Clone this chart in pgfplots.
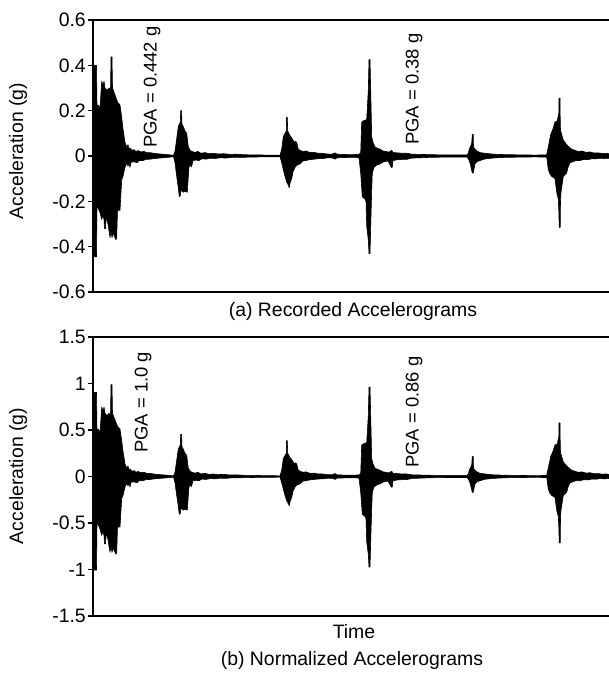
\documentclass[border=0pt]{standalone}
\usepackage{pgfplots}
\pgfplotsset{compat=1.18}
\usepackage{pgfplotstable}
\usepackage{fontspec}
\setmainfont{Liberation Sans}

% upper envelope of the recorded accelerograms (x in time units, y in g)
\pgfplotstableread{
x y
93 0
93.5 0.15
94 0.40
96.5 0.40
97 0.22
98.3 0.225
100 0.21
101 0.28
101.7 0.33
103 0.31
104 0.33
105 0.30
107 0.29
109 0.30
110.5 0.29
111 0.437
112 0.437
112.5 0.30
113.3 0.29
115 0.27
116.7 0.247
118 0.235
120 0.225
121.7 0.17
123 0.12
124 0.09
125 0.06
126.7 0.04
128 0.05
129 0.03
130 0.035
132 0.025
134 0.028
136 0.02
138 0.024
141 0.018
144 0.02
147 0.014
150 0.015
155 0.011
160 0.009
165 0.007
170 0.005
173.5 0.003
175 0.02
176.5 0.07
178.3 0.13
180.3 0.15
180.7 0.20
181.5 0.20
182 0.14
183.3 0.13
185 0.11
186.7 0.10
187.5 0.07
188.3 0.04
190 0.026
192 0.02
195 0.016
198 0.02
201 0.012
205 0.015
209 0.01
213 0.012
218 0.009
224 0.01
230 0.007
236 0.008
242 0.006
250 0.005
257 0.005
265 0.004
272 0.004
280 0.003
281.7 0.03
283.3 0.085
285 0.10
286.3 0.11
286.5 0.17
287.3 0.17
287.7 0.11
288.3 0.105
290 0.09
291.7 0.08
293 0.07
294.5 0.06
295.5 0.065
296.7 0.06
298.3 0.03
300 0.025
303 0.02
306 0.022
310 0.015
314 0.016
318 0.012
322 0.012
327 0.009
332 0.008
335 0.014
337 0.008
342 0.007
348 0.006
354 0.006
359 0.008
360.7 0.013
361.7 0.15
363.3 0.155
366.7 0.16
368.3 0.29
369 0.425
370 0.425
370.7 0.29
371.7 0.085
373 0.06
375 0.04
377 0.035
380 0.03
383 0.022
386 0.02
389 0.017
391.7 0.025
393 0.015
397 0.014
402 0.012
406.7 0.012
412 0.008
420 0.007
430 0.006
440 0.005
450 0.005
460 0.005
467 0.005
468.3 0.012
469.3 0.03
471.7 0.055
472.3 0.095
473.2 0.095
473.5 0.04
475 0.03
477 0.022
480 0.015
485 0.012
493.3 0.008
505 0.006
520 0.005
535 0.004
546.7 0.005
547.3 0.02
548.3 0.04
550.7 0.095
553 0.12
555 0.15
557.3 0.155
558.8 0.19
559 0.255
560 0.255
560.3 0.13
560.7 0.11
562 0.09
563.3 0.07
565 0.06
566.7 0.05
569 0.04
571.7 0.03
575 0.025
578 0.02
582 0.022
586 0.016
590 0.018
594 0.013
598 0.014
602 0.011
606 0.012
609 0.01
609 0
}\upperenv

% lower envelope
\pgfplotstableread{
x y
93 0
93.5 -0.2
94 -0.445
96.5 -0.445
97 -0.22
98.3 -0.23
100 -0.25
101.7 -0.28
103 -0.26
104 -0.28
104.5 -0.32
105.5 -0.32
106 -0.27
108 -0.30
110 -0.36
111 -0.33
112 -0.36
113.3 -0.34
115 -0.36
116 -0.37
116.7 -0.36
117.5 -0.24
120 -0.24
121.7 -0.105
123 -0.09
125 -0.05
127 -0.03
128 -0.045
129 -0.03
130 -0.05
131 -0.028
134 -0.025
137 -0.03
139 -0.02
143 -0.02
146 -0.015
150 -0.014
155 -0.011
160 -0.009
165 -0.007
170 -0.005
173.5 -0.003
175 -0.03
176.7 -0.09
178.3 -0.14
179.3 -0.18
180.3 -0.175
181 -0.15
183.3 -0.16
185 -0.155
187.3 -0.16
188.3 -0.09
189 -0.05
190 -0.04
191.5 -0.048
193 -0.02
196 -0.018
199 -0.02
202 -0.012
206 -0.014
210 -0.01
215 -0.011
220 -0.008
226 -0.009
232 -0.006
240 -0.006
250 -0.005
260 -0.004
270 -0.004
280 -0.003
281.7 -0.03
283.3 -0.06
285 -0.09
286.7 -0.115
288.5 -0.13
289.3 -0.14
290 -0.12
291.7 -0.10
293 -0.07
295 -0.05
297 -0.04
300 -0.035
303 -0.022
306 -0.02
310 -0.016
314 -0.014
318 -0.012
323 -0.011
328 -0.008
333 -0.009
335 -0.014
337 -0.008
343 -0.007
350 -0.006
356 -0.006
359 -0.008
360.7 -0.075
362.3 -0.18
365 -0.19
366 -0.2
366.7 -0.31
368.3 -0.37
369 -0.43
370 -0.43
370.7 -0.31
371.7 -0.15
372.3 -0.075
374 -0.05
376.7 -0.04
380 -0.035
384 -0.025
388 -0.022
391.2 -0.05
392.2 -0.05
393 -0.02
398 -0.016
402 -0.015
406.7 -0.015
412 -0.009
420 -0.008
430 -0.006
445 -0.005
460 -0.005
467 -0.005
468.3 -0.012
470 -0.03
472.3 -0.075
473.2 -0.075
475 -0.035
477 -0.025
480 -0.02
485 -0.013
493 -0.009
505 -0.006
520 -0.005
535 -0.004
546.7 -0.005
547.3 -0.025
548.3 -0.06
550 -0.08
551.7 -0.09
555 -0.10
556.7 -0.16
558.3 -0.19
558.9 -0.25
559.2 -0.315
560.2 -0.315
560.5 -0.2
561 -0.16
563.3 -0.09
566.7 -0.075
568 -0.05
570 -0.03
573 -0.025
576 -0.02
580 -0.02
584 -0.015
588 -0.016
592 -0.012
596 -0.013
600 -0.01
604 -0.011
609 -0.01
609 0
}\lowerenv

\begin{document}
\fontsize{19.5}{23}\selectfont
\begin{tikzpicture}
\path[use as bounding box] (0,0) rectangle (609bp,680bp);
\pgfplotsset{
  acc/.style={
    anchor=south west, scale only axis, width=516bp,
    xmin=93, xmax=609,
    axis x line*=box, axis y line*=left,
    xtick=\empty, tick align=outside, major tick length=5bp,
    axis line style={line width=1.4bp, black},
    every tick/.style={line width=1.4bp, black},
    /pgf/number format/assume math mode=true,
    yticklabel style={font=\fontsize{19.5}{23}\selectfont, inner sep=2bp},
  },
  wave/.style={fill=black, draw=black, line width=0.6bp, line join=round},
}
\begin{axis}[acc, at={(93bp,388bp)}, height=272bp,
  ymin=-0.6, ymax=0.6, ytick={-0.6,-0.4,-0.2,0,0.2,0.4,0.6}]
\addplot[wave] table[x=x, y=y] {\upperenv};
\addplot[wave] table[x=x, y=y] {\lowerenv};
\addplot[black, line width=1.6bp] coordinates {(93,0) (609,0)};
\end{axis}
\begin{axis}[acc, at={(93bp,64bp)}, height=279bp,
  ymin=-1.5, ymax=1.5, ytick={-1.5,-1,-0.5,0,0.5,1,1.5}]
\addplot[wave] table[x=x, y expr=\thisrow{y}*2.262] {\upperenv};
\addplot[wave] table[x=x, y expr=\thisrow{y}*2.262] {\lowerenv};
\addplot[black, line width=1.6bp] coordinates {(93,0) (609,0)};
\end{axis}
\node[rotate=90] at (18bp,529bp) {Acceleration (g)};
\node[rotate=90] at (18bp,204bp) {Acceleration (g)};
\node at (353bp,369bp) {(a) Recorded Accelerograms};
\node at (354bp,48bp) {Time};
\node at (352bp,20bp) {(b) Normalized Accelerograms};
\begin{scope}[every node/.style={rotate=90, anchor=west, inner sep=0pt, font=\fontsize{18.5}{22}\selectfont}]
\node at (152bp,532bp) {PGA = 0.442 g};
\node at (414bp,535bp) {PGA = 0.38 g};
\node at (143bp,227bp) {PGA = 1.0 g};
\node at (414bp,212bp) {PGA = 0.86 g};
\end{scope}
\end{tikzpicture}
\end{document}
